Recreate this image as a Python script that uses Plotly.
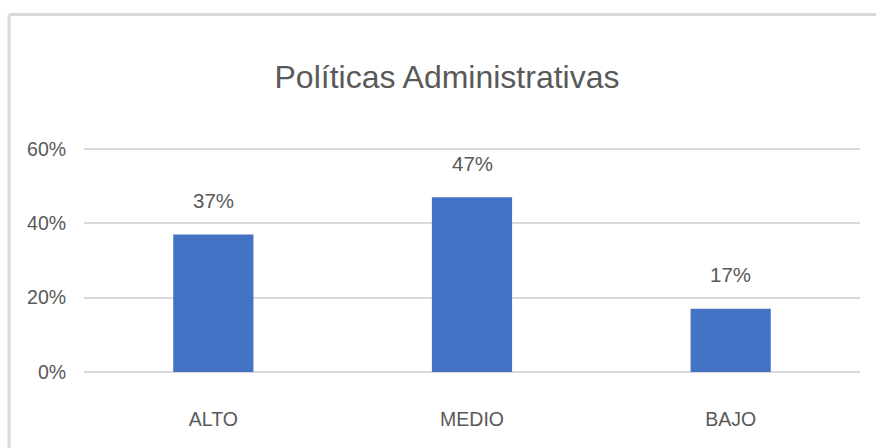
import plotly.graph_objects as go

categories = ["ALTO", "MEDIO", "BAJO"]
values = [0.37, 0.47, 0.17]
labels = ["37%", "47%", "17%"]
tick_vals = [0, 0.2, 0.4, 0.6]
tick_text = ["0%", "20%", "40%", "60%"]
title_text = "Políticas Administrativas"

FONT = "Liberation Sans, Arial, sans-serif"
TXT = "#595959"
GRID = "#d9d9d9"

fig = go.Figure()
fig.add_trace(go.Bar(x=categories, y=values, marker=dict(color="#4472C4", line=dict(width=0)),
                     hoverinfo="skip"))

for c, v, t in zip(categories, values, labels):
    fig.add_annotation(x=c, y=v, text=t, showarrow=False, yanchor="middle", yshift=34,
                       font=dict(family=FONT, size=20.5, color=TXT))

W, H = 876, 448
L, R, T, B = 84, 16, 145, 76
pw, ph = W - L - R, H - T - B

def px_x(x):
    return (x - L) / pw

def px_y(y):
    return 1 - (y - T) / ph

# chart border (top and left)
fig.add_shape(type="line", xref="paper", yref="paper", x0=px_x(9), x1=px_x(W + 5),
              y0=px_y(14.5), y1=px_y(14.5), line=dict(color=GRID, width=3), layer="below")
fig.add_shape(type="line", xref="paper", yref="paper", x0=px_x(9), x1=px_x(9),
              y0=px_y(14.5), y1=px_y(H + 5), line=dict(color=GRID, width=3), layer="below")

fig.update_layout(
    width=W, height=H,
    margin=dict(l=L, r=R, t=T, b=B),
    paper_bgcolor="white", plot_bgcolor="white",
    bargap=0.69,
    showlegend=False,
    title=dict(text=title_text, x=447 / W, xanchor="center", xref="container",
               y=1 - 77 / H, yanchor="middle", yref="container",
               font=dict(family=FONT, size=32, color=TXT)),
    font=dict(family=FONT, color=TXT),
)
fig.update_xaxes(showgrid=False, showline=False, zeroline=False,
                 ticks="outside", ticklen=30, tickcolor="rgba(0,0,0,0)",
                 tickfont=dict(family=FONT, size=19.5, color=TXT))
fig.update_yaxes(range=[0, 0.6108], tickvals=tick_vals, ticktext=tick_text,
                 showgrid=True, gridcolor=GRID, gridwidth=2,
                 zeroline=True, zerolinecolor=GRID, zerolinewidth=2,
                 showline=False, ticks="outside", ticklen=13, tickcolor="rgba(0,0,0,0)",
                 tickfont=dict(family=FONT, size=19.5, color=TXT))

fig.write_html("out.html")
